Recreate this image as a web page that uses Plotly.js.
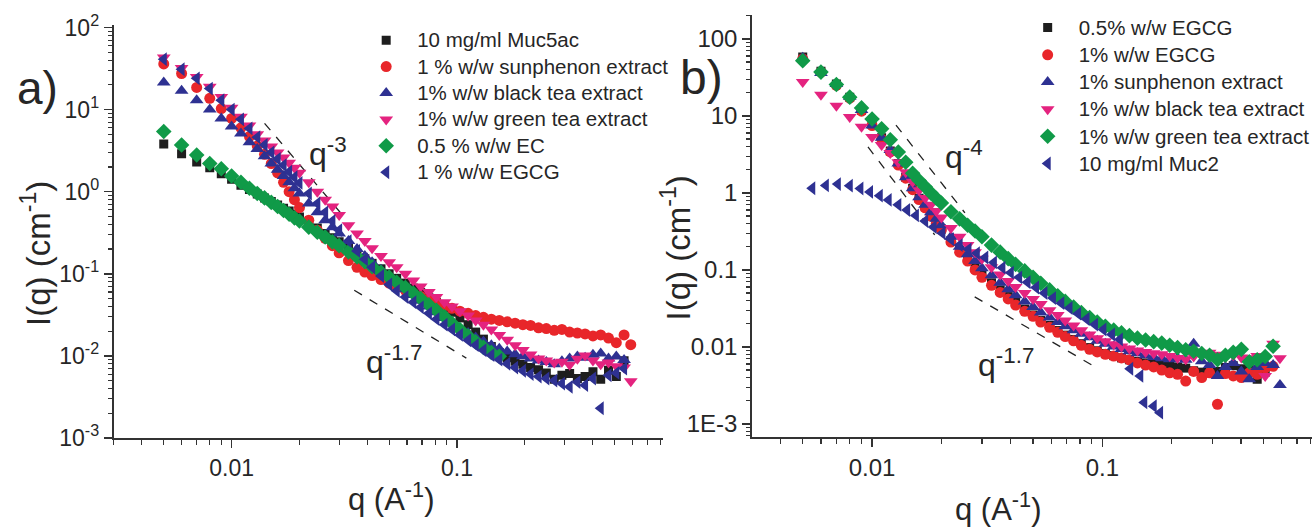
<!DOCTYPE html>
<html>
<head>
<meta charset="utf-8">
<script src="https://cdn.plot.ly/plotly-3.0.1.min.js"></script>
<style>html,body{margin:0;padding:0;background:#fff;}#chart{width:1315px;height:530px;}</style>
</head>
<body>
<div id="chart"></div>
<script>
// shared q grid (A^-1)
const q = [0.005,0.006,0.007,0.008,0.009,0.010,0.011,0.012,0.013,0.014,0.015,0.016,0.017,0.018,0.019,0.020,0.022,0.024,0.026,0.028,0.030,0.033,0.036,0.039,0.042,0.046,0.050,0.054,0.059,0.064,0.069,0.075,0.081,0.088,0.095,0.103,0.112,0.121,0.131,0.142,0.154,0.167,0.181,0.196,0.212,0.230,0.249,0.270,0.292,0.316,0.342,0.370,0.401,0.434,0.470,0.509,0.551,0.590];

// panel a
const a_muc5ac = [3.8,2.9,2.3,1.95,1.65,1.42,1.2,1.06,0.94,0.84,0.76,0.69,0.63,0.58,0.53,0.49,0.42,0.36,0.31,0.275,0.245,0.205,0.175,0.152,0.134,0.115,0.1,0.088,0.077,0.067,0.059,0.051,0.045,0.039,0.034,0.029,0.024,0.0195,0.016,0.013,0.011,0.0095,0.0086,0.0079,0.0072,0.0068,0.0062,0.0052,0.0058,0.0061,0.0053,0.0056,0.0064,0.0052,0.0067,0.0056,0.0087,null];
const a_sunphenon = [36,27.5,18.6,13.7,10.3,7.8,6.0,4.7,3.6,2.85,2.2,1.7,1.3,1.0,0.8,0.64,0.45,0.34,0.27,0.22,0.18,0.145,0.12,0.105,0.095,0.085,0.077,0.07,0.063,0.058,0.053,0.049,0.045,0.041,0.038,0.035,0.033,0.031,0.0295,0.028,0.027,0.026,0.025,0.024,0.0235,0.022,0.0215,0.0205,0.021,0.0195,0.019,0.0185,0.0175,0.018,0.0165,0.0145,0.018,0.0137];
const a_blacktea = [21.4,17,13,10,7.8,6.2,5.1,4.0,3.3,2.7,2.2,1.85,1.55,1.3,1.1,0.95,0.72,0.56,0.45,0.37,0.31,0.25,0.2,0.165,0.138,0.112,0.093,0.078,0.065,0.055,0.047,0.04,0.034,0.029,0.025,0.0215,0.019,0.0168,0.015,0.0135,0.0122,0.0113,0.0105,0.0099,0.0093,0.0088,0.0084,0.0079,0.0086,0.0093,0.0098,0.0095,0.0103,0.0107,0.0093,0.0098,0.0089,null];
const a_greentea = [43,32,25,19,14.2,10.5,8.2,6.4,5.0,4.2,3.55,3.0,2.6,2.25,1.95,1.7,1.3,1.0,0.8,0.66,0.52,0.39,0.31,0.25,0.205,0.165,0.138,0.12,0.1,0.083,0.07,0.06,0.052,0.045,0.04,0.035,0.031,0.027,0.024,0.021,0.018,0.0157,0.0135,0.0118,0.0104,0.0093,0.0088,0.0083,0.0085,0.0078,0.0092,0.0101,0.0088,0.0079,0.0083,0.0075,0.0072,0.0049];
const a_ec = [5.4,3.7,2.8,2.2,1.9,1.55,1.3,1.1,0.95,0.84,0.74,0.66,0.59,0.53,0.48,0.44,0.37,0.32,0.28,0.245,0.22,0.185,0.16,0.14,0.122,0.104,0.091,0.079,0.068,0.058,0.05,0.042,0.036,0.03,0.025,0.021,0.0175,0.0148,0.0127,0.011,0.0099,null,null,null,null,null,null,null,null,null,null,null,null,null,null,null,null,null];
const a_egcg = [41,31,24,18,13,10,7.6,5.9,4.6,3.7,3.0,2.5,2.1,1.75,1.5,1.28,0.95,0.72,0.56,0.44,0.34,0.25,0.19,0.15,0.12,0.094,0.074,0.062,0.052,0.045,0.039,0.033,0.028,0.024,0.021,0.018,0.0155,0.0135,0.0117,0.0102,0.009,0.008,0.0072,0.0066,0.006,0.0056,0.0053,0.005,0.0046,0.0042,0.0048,0.0044,0.0053,0.0023,0.0058,0.0062,0.007,null];

// panel b
const b_egcg05 = [58,38,26,17.5,11.8,7.8,5.2,3.5,2.4,1.6,1.15,0.85,0.66,0.52,0.42,0.34,0.24,0.18,0.14,0.11,0.088,0.068,0.055,0.045,0.038,0.031,0.026,0.022,0.019,0.0163,0.0142,0.0125,0.011,0.0098,0.0089,0.0082,0.0077,0.0072,0.0068,0.0065,0.0062,0.006,0.0058,0.0056,0.0055,0.0053,0.0049,0.0047,0.0046,0.0048,0.0054,0.0057,0.0052,0.0055,0.0038,0.0047,null,null];
const b_egcg1 = [55,37,25,17,11.5,7.5,5.0,3.4,2.3,1.55,1.1,0.82,0.64,0.5,0.4,0.33,0.23,0.17,0.13,0.1,0.08,0.063,0.051,0.042,0.035,0.029,0.025,0.021,0.018,0.0155,0.0136,0.012,0.0105,0.0093,0.0086,0.008,0.0076,0.0072,0.0068,0.0062,0.0058,0.0055,0.005,0.0046,0.0044,0.0036,0.0048,0.004,0.0046,0.0018,0.0045,0.0042,0.004,0.0046,0.0044,0.0053,0.0056,null];
const b_sunphenon = [57,36,26,17.7,11.9,7.5,5.2,3.6,2.4,1.6,1.15,0.88,0.7,0.56,0.46,0.38,0.27,0.2,0.16,0.13,0.105,0.085,0.068,0.056,0.047,0.039,0.033,0.028,0.024,0.021,0.0185,0.0165,0.0148,0.0133,0.012,0.011,0.0101,0.0094,0.0088,0.0083,0.0078,0.0074,0.0071,0.0069,0.0072,0.0068,0.011,0.0065,0.0058,0.0042,0.0055,0.0062,0.0048,0.0038,0.0055,0.0062,0.0058,0.0032];
const b_blacktea = [27.6,18.8,13.5,9.7,7.2,5.3,4.2,3.3,2.5,1.85,1.4,1.08,0.86,0.7,0.58,0.48,0.35,0.27,0.21,0.17,0.14,0.108,0.087,0.072,0.06,0.05,0.042,0.036,0.03,0.026,0.022,0.019,0.0165,0.0145,0.013,0.0118,0.0108,0.0101,0.0095,0.009,0.0086,0.0083,0.008,0.0076,0.0072,0.0069,0.0075,0.0081,0.0084,0.0079,0.0074,0.0078,0.0073,0.0071,0.0076,0.0042,0.011,0.0071];
const b_greentea = [52,37,25.5,17.5,12.7,9.1,6.8,4.9,3.4,2.5,1.8,1.45,1.2,1.0,0.85,0.74,0.57,0.46,0.38,0.32,0.27,0.21,0.17,0.14,0.118,0.097,0.08,0.067,0.055,0.046,0.039,0.033,0.028,0.024,0.021,0.0185,0.0165,0.0152,0.014,0.013,0.0123,0.0117,0.0112,0.0105,0.0098,0.0092,0.0088,0.0082,0.0078,0.0068,0.0078,0.0085,0.0093,0.0064,0.0068,0.0075,0.0102,null];
const q_muc2 = [0.0055,0.0063,0.0071,0.008,0.0089,0.0098,0.0108,0.0118,0.013,0.0142,0.0155,0.017,0.0185,0.0202,0.022,0.024,0.0262,0.0285,0.031,0.0338,0.0368,0.04,0.0435,0.0473,0.0515,0.056,0.061,0.0663,0.072,0.0784,0.0853,0.0928,0.101,0.11,0.119,0.132,0.146,0.152,0.167,0.178];
const b_muc2 = [1.15,1.25,1.3,1.24,1.14,1.03,0.92,0.81,0.7,0.6,0.51,0.43,0.36,0.3,0.25,0.21,0.185,0.165,0.145,0.125,0.107,0.092,0.08,0.069,0.059,0.05,0.043,0.037,0.032,0.027,0.023,0.0195,0.0168,0.0145,0.0125,0.0052,0.0042,0.0019,0.0017,0.0014];

// power-law guide lines (q, I)
const a_q3_q = [0.014, 0.0316], a_q3_I = [6.8, 0.49];
const a_q17_q = [0.035, 0.11], a_q17_I = [0.063, 0.0094];
const b_q4a_q = [0.0096, 0.0187], b_q4a_I = [3.96, 0.285];
const b_q4b_q = [0.0127, 0.0253], b_q4b_I = [7.6, 0.55];
const b_q17_q = [0.0279, 0.093], b_q17_I = [0.0447, 0.0055];

const namesA = ['10 mg/ml Muc5ac','1 % w/w sunphenon extract','1% w/w black tea extract','1% w/w green tea extract','0.5 % w/w EC','1 % w/w EGCG'];
const namesB = ['0.5% w/w EGCG','1% w/w EGCG','1% sunphenon extract','1% w/w black tea extract','1% w/w green tea extract','10 mg/ml Muc2'];
const yTickVals = [0.001,0.01,0.1,1,10,100];
const yTickTextA = ['10<sup>-3</sup>','10<sup>-2</sup>','10<sup>-1</sup>','10<sup>0</sup>','10<sup>1</sup>','10<sup>2</sup>'];
const yTickTextB = ['1E-3','0.01','0.1','1','10','100'];
const xTickVals = [0.01,0.1];
const xTickText = ['0.01','0.1'];

const FONT = 'Liberation Sans, Arial, sans-serif';
const TXT = '#262626';
const C = {black:'#1e1e1e', red:'#e8262a', navy:'#2e3192', pink:'#e4237f', green:'#109a48'};
const styles = [
  {symbol:'square', color:C.black, size:9},
  {symbol:'circle', color:C.red, size:11},
  {symbol:'triangle-up', color:C.navy, size:12},
  {symbol:'triangle-down', color:C.pink, size:12},
  {symbol:'diamond', color:C.green, size:12},
  {symbol:'triangle-left', color:C.navy, size:12}
];

function minorVals(lo, hi){
  const v=[]; for(let e=lo;e<=hi;e++){for(let m=2;m<=9;m++){v.push(m*Math.pow(10,e));}} return v;
}
function lbl(s){ return '<span style="font-size:20.5px">'+s+'</span>'; }

const traces = [];
function guide(xs, ys, xa, ya){
  traces.push({x:xs, y:ys, xaxis:xa, yaxis:ya, mode:'lines', showlegend:false, hoverinfo:'skip',
    line:{color:'#222', width:1.3, dash:'dash'}});
}
guide(a_q3_q, a_q3_I, 'x', 'y');
guide(a_q17_q, a_q17_I, 'x', 'y');
guide(b_q4a_q, b_q4a_I, 'x2', 'y2');
guide(b_q4b_q, b_q4b_I, 'x2', 'y2');
guide(b_q17_q, b_q17_I, 'x2', 'y2');

const seriesA = [a_muc5ac, a_sunphenon, a_blacktea, a_greentea, a_ec, a_egcg];
seriesA.forEach((ys,i)=>{
  const s = styles[i];
  traces.push({x:q, y:ys, xaxis:'x', yaxis:'y', mode:'markers', name:lbl(namesA[i]), legend:'legend',
    marker:{symbol:s.symbol, color:s.color, size:s.size, line:{width:0}}});
});
const seriesB = [b_egcg05, b_egcg1, b_sunphenon, b_blacktea, b_greentea];
seriesB.forEach((ys,i)=>{
  const s = styles[i];
  traces.push({x:q, y:ys, xaxis:'x2', yaxis:'y2', mode:'markers', name:lbl(namesB[i]), legend:'legend2',
    marker:{symbol:s.symbol, color:s.color, size:s.size, line:{width:0}}});
});
traces.push({x:q_muc2, y:b_muc2, xaxis:'x2', yaxis:'y2', mode:'markers', name:lbl(namesB[5]), legend:'legend2',
  marker:{symbol:styles[5].symbol, color:styles[5].color, size:styles[5].size, line:{width:0}}});

const axisCommon = {
  type:'log', showline:true, linecolor:'#333', linewidth:2, ticks:'outside', ticklen:8, tickwidth:1.5, tickcolor:'#333',
  showgrid:false, zeroline:false, mirror:false, tickmode:'array',
  tickfont:{family:FONT, size:23, color:TXT}
};
const xMinor = {ticks:'outside', ticklen:5, tickwidth:1.2, tickcolor:'#333', tickmode:'array', tickvals:minorVals(-3,-1), showgrid:false};
const yMinor = {ticks:'outside', ticklen:4, tickwidth:1.2, tickcolor:'#333', tickmode:'array', tickvals:minorVals(-4,2), showgrid:false};

const W=1315, H=530;
const layout = {
  width:W, height:H, margin:{l:0,r:0,t:0,b:0}, paper_bgcolor:'#fff', plot_bgcolor:'rgba(0,0,0,0)',
  font:{family:FONT, color:TXT},
  xaxis: Object.assign({}, axisCommon, {domain:[114/W, 665/W], range:[Math.log10(0.003), -0.084], anchor:'y',
    tickvals:xTickVals, ticktext:xTickText, minor:xMinor}),
  yaxis: Object.assign({}, axisCommon, {domain:[(H-438)/H, (H-25)/H], range:[-3, 2.03], anchor:'x',
    tickvals:yTickVals, ticktext:yTickTextA, minor:yMinor}),
  xaxis2: Object.assign({}, axisCommon, {domain:[754/W, 1], range:[-2.52, -0.09], anchor:'y2',
    tickvals:xTickVals, ticktext:xTickText, minor:xMinor, tickfont:{family:FONT, size:24, color:TXT}}),
  yaxis2: Object.assign({}, axisCommon, {domain:[(H-437)/H, (H-15)/H], range:[-3.17, 2.31], anchor:'x2',
    tickvals:yTickVals, ticktext:yTickTextB, minor:yMinor, tickfont:{family:FONT, size:24, color:TXT}}),
  legend: {x:356/W, y:1-22/H, xanchor:'left', yanchor:'top', itemwidth:52, bgcolor:'rgba(0,0,0,0)',
    font:{family:FONT, size:18, color:TXT}, tracegroupgap:0},
  legend2: {x:1019/W, y:1-9/H, xanchor:'left', yanchor:'top', itemwidth:52, bgcolor:'rgba(0,0,0,0)',
    font:{family:FONT, size:18.6, color:TXT}, tracegroupgap:0},
  annotations: [
    {text:'a)', x:38/W, y:1-88/H, xref:'paper', yref:'paper', showarrow:false, font:{size:46, color:TXT}, xanchor:'center', yanchor:'middle'},
    {text:'b)', x:703/W, y:1-78/H, xref:'paper', yref:'paper', showarrow:false, font:{size:48, color:TXT}, xanchor:'center', yanchor:'middle'},
    {text:'q<sup>-3</sup>', x:308/W, y:1-152/H, xref:'paper', yref:'paper', showarrow:false, font:{size:32, color:TXT}, xanchor:'left', yanchor:'middle'},
    {text:'q<sup>-1.7</sup>', x:365/W, y:1-360/H, xref:'paper', yref:'paper', showarrow:false, font:{size:32, color:TXT}, xanchor:'left', yanchor:'middle'},
    {text:'q<sup>-4</sup>', x:945/W, y:1-155/H, xref:'paper', yref:'paper', showarrow:false, font:{size:32, color:TXT}, xanchor:'left', yanchor:'middle'},
    {text:'q<sup>-1.7</sup>', x:978/W, y:1-363/H, xref:'paper', yref:'paper', showarrow:false, font:{size:32, color:TXT}, xanchor:'left', yanchor:'middle'},
    {text:'q (A<sup>-1</sup>)', x:392/W, y:1-497/H, xref:'paper', yref:'paper', showarrow:false, font:{size:31, color:TXT}, xanchor:'center', yanchor:'middle'},
    {text:'q (A<sup>-1</sup>)', x:1000/W, y:1-507/H, xref:'paper', yref:'paper', showarrow:false, font:{size:31, color:TXT}, xanchor:'center', yanchor:'middle'},
    {text:'I(q) (cm<sup>-1</sup>)', x:36/W, y:1-253/H, xref:'paper', yref:'paper', showarrow:false, textangle:-90, font:{size:33, color:TXT}, xanchor:'center', yanchor:'middle'},
    {text:'I(q) (cm<sup>-1</sup>)', x:678/W, y:1-248/H, xref:'paper', yref:'paper', showarrow:false, textangle:-90, font:{size:33, color:TXT}, xanchor:'center', yanchor:'middle'}
  ]
};

Plotly.newPlot('chart', traces, layout, {displayModeBar:false, staticPlot:true});
</script>
</body>
</html>
